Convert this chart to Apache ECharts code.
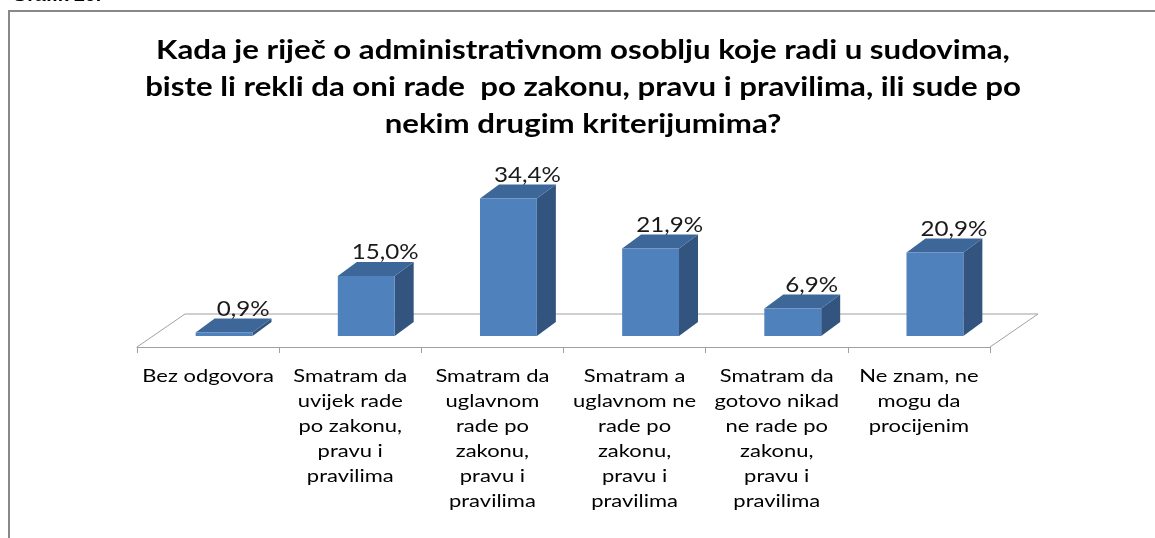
<!DOCTYPE html>
<html>
<head>
<meta charset="utf-8">
<script src="https://cdn.jsdelivr.net/npm/echarts@6/dist/echarts.min.js"></script>
<style>
  html, body { margin: 0; padding: 0; background: #fff; }
  #chart { width: 1155px; height: 538px; }
</style>
</head>
<body>
<div id="chart"></div>
<script>
// kategorije odgovora
const categories = [
  'Bez odgovora',
  'Smatram da\nuvijek rade\npo zakonu,\npravu i\npravilima',
  'Smatram da\nuglavnom\nrade po\nzakonu,\npravu i\npravilima',
  'Smatram a\nuglavnom ne\nrade po\nzakonu,\npravu i\npravilima',
  'Smatram da\ngotovo nikad\nne rade po\nzakonu,\npravu i\npravilima',
  'Ne znam, ne\nmogu da\nprocijenim'
]
// procenti
const values = [0.9, 15.0, 34.4, 21.9, 6.9, 20.9]

const titleText = 'Kada je riječ o administrativnom osoblju koje radi u sudovima,\nbiste li rekli da oni rade  po zakonu, pravu i pravilima, ili sude po\nnekim drugim kriterijumima?'

// izgled 3D stubaca
const FLOOR_DX = 48
const FLOOR_DY = 33
const BAR_SHIFT_X = 16
const BAR_SHIFT_Y = 11
const BAR_DX = 19
const BAR_DY = 14
const STRETCH = 1.2   // original je razvučen po širini
const FONT = 'Lato, "Open Sans", sans-serif'

const chart = echarts.init(document.getElementById('chart'))

const fmt = v => v.toFixed(1).replace('.', ',') + '%'

const option = {
  animation: false,
  graphic: [
    {
      type: 'rect',
      shape: { x: 9, y: 11, width: 1200, height: 600 },
      style: { fill: 'none', stroke: '#888', lineWidth: 2 },
      silent: true
    },
    {
      type: 'text',
      x: 12,
      y: -12,
      scaleX: 1.15,
      style: { text: 'Grafik 20.', font: 'bold 17px Arial, "Liberation Sans", sans-serif', fill: '#000' }
    },
    {
      // naslov
      type: 'text',
      x: 583,
      y: 32,
      scaleX: STRETCH,
      style: {
        text: titleText,
        font: 'bold 26px ' + FONT,
        lineHeight: 37,
        fill: '#000',
        align: 'center',
        verticalAlign: 'top'
      }
    }
  ],
  grid: {
    left: 137,
    right: 165,
    top: 187,
    bottom: 191
  },
  xAxis: {
    type: 'category',
    data: categories,
    axisLine: { lineStyle: { color: '#a0a0a0', width: 1 } },
    axisTick: { show: true, length: 6, interval: 0, lineStyle: { color: '#a0a0a0' } },
    axisLabel: { show: false }
  },
  yAxis: {
    type: 'value',
    min: 0,
    max: 40,
    show: false
  },
  series: [
    {
      // pod dijagrama
      type: 'custom',
      z: 1,
      data: [[0]],
      renderItem(params, api) {
        const cs = params.coordSys
        const yb = cs.y + cs.height
        const xl = cs.x
        const xr = cs.x + cs.width
        return {
          type: 'polyline',
          shape: {
            points: [[xl, yb], [xl + FLOOR_DX, yb - FLOOR_DY], [xr + FLOOR_DX, yb - FLOOR_DY], [xr, yb]]
          },
          style: { stroke: '#a0a0a0', lineWidth: 1, fill: null }
        }
      }
    },
    {
      // nazivi kategorija ispod osi
      type: 'custom',
      z: 2,
      data: categories.map((c, i) => [i, 0]),
      renderItem(params, api) {
        const i = api.value(0)
        const p = api.coord([i, 0])
        return {
          type: 'text',
          x: p[0],
          y: p[1] + 17,
          scaleX: 1.22,
          style: {
            text: categories[i],
            font: '18px ' + FONT,
            lineHeight: 25,
            fill: '#000',
            align: 'center',
            verticalAlign: 'top'
          }
        }
      }
    },
    {
      type: 'custom',
      z: 3,
      data: values.map((v, i) => [i, v]),
      renderItem(params, api) {
        const i = api.value(0)
        const v = api.value(1)
        const base = api.coord([i, 0])
        const top = api.coord([i, v])
        const band = api.size([1, 0])[0]
        const w = band * 0.4
        const x0 = base[0] + BAR_SHIFT_X - w / 2
        const x1 = x0 + w
        const y0 = base[1] - BAR_SHIFT_Y
        const yt = top[1] - BAR_SHIFT_Y
        return {
          type: 'group',
          children: [
            {
              type: 'polygon',
              shape: { points: [[x1, y0], [x1, yt], [x1 + BAR_DX, yt - BAR_DY], [x1 + BAR_DX, y0 - BAR_DY]] },
              style: { fill: '#32547f' }
            },
            {
              type: 'polygon',
              shape: { points: [[x0, yt], [x1, yt], [x1 + BAR_DX, yt - BAR_DY], [x0 + BAR_DX, yt - BAR_DY]] },
              style: { fill: '#3d6798' }
            },
            {
              type: 'rect',
              shape: { x: x0, y: yt, width: w, height: y0 - yt },
              style: { fill: '#4f81bd' }
            },
            {
              type: 'text',
              x: x0 + w / 2 + BAR_DX,
              y: yt - BAR_DY + 1,
              scaleX: 1.15,
              style: {
                text: fmt(v),
                font: '21px ' + FONT,
                fill: '#1a1a1a',
                align: 'center',
                verticalAlign: 'bottom'
              }
            }
          ]
        }
      }
    }
  ]
}

chart.setOption(option)
</script>
</body>
</html>
